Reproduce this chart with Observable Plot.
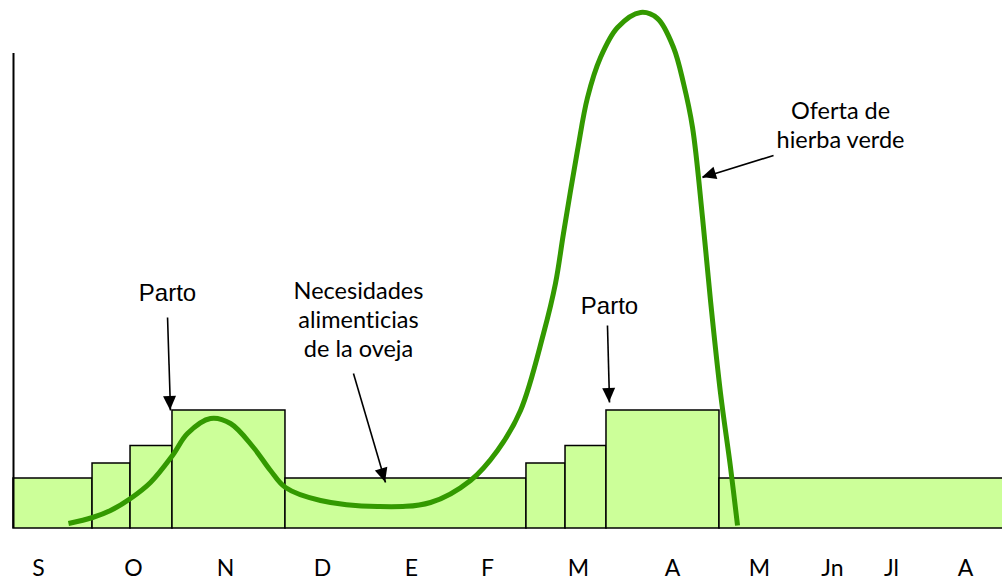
<!DOCTYPE html>
<html>
<head>
<meta charset="utf-8">
<script src="https://cdn.jsdelivr.net/npm/d3@7"></script>
<script src="https://cdn.jsdelivr.net/npm/@observablehq/plot@0.6"></script>
<style>
  html, body { margin: 0; padding: 0; background: #fff; }
  svg text { font-variant-ligatures: none; font-feature-settings: "liga" 0; }
</style>
</head>
<body>
<div id="chart"></div>
<script>
// x in months from start of September (0..12), y in arbitrary units
const monthLabels = ["S", "O", "N", "D", "E", "F", "M", "A", "M", "Jn", "Jl", "A"];
const monthPos = [0.303, 1.456, 2.572, 3.749, 4.829, 5.751, 6.855, 7.996, 9.052, 9.937, 10.653, 11.551];

// Ewe needs (blocks)
const barStart = [0, 0.959, 1.420, 1.929, 3.300, 6.224, 6.698, 7.195, 8.566];
const barEnd = [0.959, 1.420, 1.929, 3.300, 6.224, 6.698, 7.195, 8.566, 12.03];
const barHeight = [10, 13, 16.5, 23.6, 10, 13, 16.5, 23.6, 10];

// Green grass supply curve
const grassX = [0.667, 0.959, 1.177, 1.420, 1.662, 1.929, 2.111, 2.390, 2.633, 2.912, 3.118, 3.300, 3.725, 4.417, 5.060, 5.545, 5.873, 6.152, 6.431, 6.576, 6.673, 6.843, 6.965, 7.122, 7.329, 7.608, 7.814, 8.008, 8.130, 8.239, 8.360, 8.457, 8.579, 8.700, 8.785];
const grassY = [1.0, 2.2, 3.6, 6.0, 9.2, 14.6, 19.0, 22.0, 21.0, 16.2, 11.6, 8.2, 5.6, 4.4, 5.2, 9.6, 15.6, 23.6, 39.0, 49.0, 59.0, 75.6, 86.2, 94.2, 100.2, 103.2, 102.0, 96.2, 89.0, 80.2, 62.2, 45.6, 27.0, 12.2, 0.6];

// Annotations
const labelText = ["Parto", "Parto", "Necesidades\nalimenticias\nde la oveja", "Oferta de\nhierba verde"];
const labelX = [1.869, 7.232, 4.186, 10.035];
const labelY = [47.0, 44.4, 42.0, 80.9];

const arrowX1 = [1.869, 4.125, 7.207, 9.222];
const arrowY1 = [42.2, 31.0, 40.6, 74.6];
const arrowX2 = [1.905, 4.514, 7.232, 8.360];
const arrowY2 = [23.6, 9.2, 25.2, 70.2];

const axisTop = 95;

const bars = barStart.map((s, i) => ({x1: s, x2: barEnd[i], h: barHeight[i]}));
const grass = grassX.map((x, i) => ({x, y: grassY[i]}));
const months = monthLabels.map((m, i) => ({m, x: monthPos[i]}));
const labels = labelText.map((t, i) => ({t, x: labelX[i], y: labelY[i]}));
const arrows = arrowX1.map((x1, i) => ({x1, y1: arrowY1[i], x2: arrowX2[i], y2: arrowY2[i]}));

function arrowHeads(index, scales) {
  const g = d3.create("svg:g");
  arrows.forEach(a => {
    const X1 = scales.x(a.x1), Y1 = scales.y(a.y1), X2 = scales.x(a.x2), Y2 = scales.y(a.y2);
    const ang = Math.atan2(Y2 - Y1, X2 - X1);
    const L = 14, W = 6.5;
    const bx = X2 - L * Math.cos(ang), by = Y2 - L * Math.sin(ang);
    const px = -Math.sin(ang) * W, py = Math.cos(ang) * W;
    g.append("path")
      .attr("d", `M${X2},${Y2}L${bx + px},${by + py}L${bx - px},${by - py}Z`)
      .attr("fill", "#000");
  });
  return g.node();
}

const chart = Plot.plot({
  width: 1002,
  height: 587,
  marginLeft: 13,
  marginRight: 0,
  marginTop: 0,
  marginBottom: 59,
  x: {domain: [0, 12], axis: null},
  y: {domain: [0, 105.6], axis: null},
  style: {fontFamily: "Lato", background: "#fff", overflow: "visible"},
  marks: [
    Plot.rect(bars, {x1: "x1", x2: "x2", y1: 0, y2: "h", fill: "#ccff99", stroke: "#000", strokeWidth: 1.5}),
    Plot.line(grass, {x: "x", y: "y", curve: "catmull-rom", stroke: "#339900", strokeWidth: 5, strokeLinecap: "butt"}),
    Plot.ruleX([0], {y1: 0, y2: axisTop, stroke: "#000", strokeWidth: 2}),
    Plot.link(arrows, {x1: "x1", y1: "y1", x2: "x2", y2: "y2", stroke: "#000", strokeWidth: 1.6}),
    arrowHeads,
    Plot.text(months, {x: "x", y: -8, text: "m", fontSize: 23, fontFamily: "Lato", fill: "#000", lineAnchor: "middle"}),
    Plot.text(labels.slice(0, 2), {x: "x", y: "y", text: "t", fontSize: 24, fontFamily: "Liberation Sans", fill: "#000", lineAnchor: "middle"}),
    Plot.text(labels.slice(2), {x: "x", y: "y", text: "t", fontSize: 23.5, fontFamily: "Lato", fill: "#000", lineAnchor: "middle", lineHeight: 1.24})
  ]
});
document.getElementById("chart").appendChild(chart);
</script>
</body>
</html>
